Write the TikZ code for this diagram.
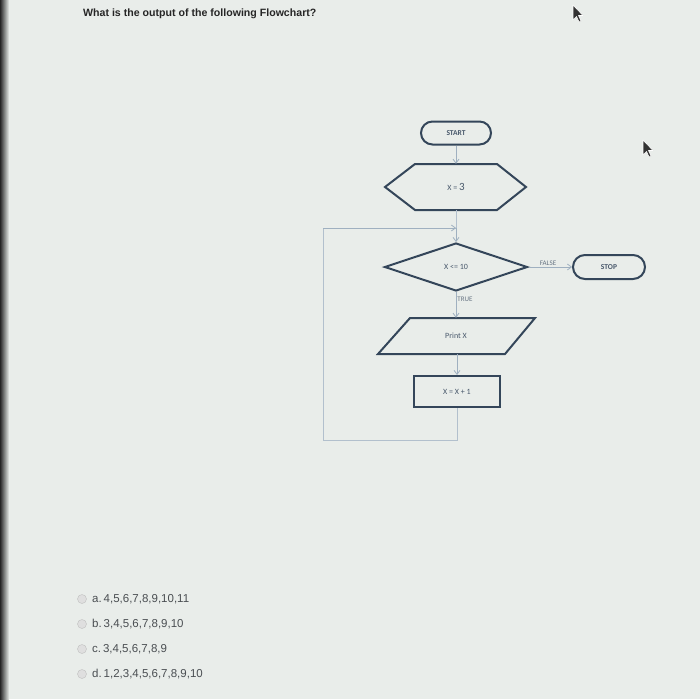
\documentclass[tikz,border=0pt]{standalone}
\usepackage{fontspec}
\setmainfont{Liberation Sans}
\newfontfamily\calib{Carlito}
\usetikzlibrary{arrows.meta,shapes.misc,shapes.geometric}
\definecolor{bgc}{HTML}{E9EDEA}
\definecolor{shp}{HTML}{34465A}
\definecolor{cnc}{HTML}{9FB0C0}
\definecolor{opt}{HTML}{4A4E52}
\tikzset{
  stad/.style={rounded rectangle, draw=shp, line width=2pt, minimum width=70pt, minimum height=23pt, inner sep=0pt, font=\calib\bfseries\fontsize{7.5}{8}\selectfont, text=shp!90},
  anch/.style={draw=none, inner sep=0pt, font=\calib\fontsize{8}{9}\selectfont, text=shp!90},
  outl/.style={draw=shp, line width=2pt, line join=miter},
  conn/.style={draw=cnc, line width=0.8pt, -{Straight Barb[length=4pt,width=6pt]}},
  loopl/.style={draw=cnc!80, line width=0.7pt},
  lbl/.style={font=\calib\fontsize{7}{8}\selectfont, text=shp!75, inner sep=1pt},
  radio/.style={circle, draw=gray!50, fill=gray!25, minimum size=9pt, inner sep=0pt},
  opttxt/.style={anchor=west, inner sep=0pt, font=\fontsize{11.5}{13}\selectfont, text=opt},
  cursor/.style={fill=black!80, draw=white, line width=0.6pt, line join=round}
}
\begin{document}
\begin{tikzpicture}[x=1pt,y=-1pt]
\useasboundingbox (0,0) rectangle (700,699);
\fill[bgc] (0,0) rectangle (700,699);
\shade[left color=black!85, right color=bgc] (0,0) rectangle (9,699);
% title
\node[anchor=west, inner sep=0pt, font=\bfseries\fontsize{10.6}{12}\selectfont, text=black!85] (title) at (83,14) {What is the output of the following Flowchart?};
% start
\node[stad] (start) at (456,133) {START};
% hexagon
\draw[outl] (385,187) -- (415,164) -- (497,164) -- (526,187) -- (497,210) -- (415,210) -- cycle;
\node[anch, minimum width=140pt, minimum height=46pt] (init) at (456,187) {X = {\fontsize{11}{12}\selectfont 3}};
% diamond
\node[diamond, outl, minimum width=143pt, minimum height=48pt, inner sep=0pt, font=\calib\fontsize{8}{9}\selectfont, text=shp!90] (cond) at (456,267) {X <= 10};
% stop
\node[stad, minimum width=72pt, minimum height=24pt] (stop) at (609,267) {STOP};
% parallelogram
\draw[outl] (410,318) -- (535,318) -- (505,354) -- (378,354) -- cycle;
\node[anch, minimum width=100pt, minimum height=36pt] (print) at (456,336) {Print X};
% rectangle
\node[draw=shp, line width=2pt, minimum width=86pt, minimum height=31pt, inner sep=0pt, font=\calib\fontsize{8}{9}\selectfont, text=shp!90] (incr) at (457,391.5) {X = X + 1};
% connectors
\draw[conn] (start.south) -- (init.north);
\coordinate (join) at (456,228);
\draw[loopl] (init.south) -- (join);
\draw[conn] (join) -- (cond.north);
\draw[conn] (cond.east) -- node[lbl, above, pos=0.45] (flab) {FALSE} (stop.west);
\draw[conn] (cond.south) -- node[lbl, right, pos=0.3] (tlab) {TRUE} (print.north -| cond.south);
\draw[conn] (print.south -| incr.north) -- (incr.north);
\coordinate (c1) at (457,440);
\coordinate (c2) at (323,440);
\coordinate (c3) at (323,228);
\draw[loopl] (incr.south) -- (c1) -- (c2) -- (c3) -- (join);
\draw[conn] (c3) -- (join);
% options
\node[radio] (ra) at (82,599) {};
\node[radio] (rb) at (82,624) {};
\node[radio] (rc) at (82,649) {};
\node[radio] (rd) at (82,674) {};
\node[opttxt] (ta) at (92,599) {a.\,4,5,6,7,8,9,10,11};
\node[opttxt] (tb) at (92,624) {b.\,3,4,5,6,7,8,9,10};
\node[opttxt] (tc) at (92,649) {c.\,3,4,5,6,7,8,9};
\node[opttxt] (td) at (92,674) {d.\,1,2,3,4,5,6,7,8,9,10};
% cursors
\draw[cursor] (573,5) -- (573,20) -- (576.5,16.5) -- (579,22) -- (581,21) -- (578.5,15.5) -- (583,15.5) -- cycle;
\draw[cursor] (643,140) -- (643,155) -- (646.5,151.5) -- (649,157) -- (651,156) -- (648.5,150.5) -- (653,150.5) -- cycle;
\end{tikzpicture}
\end{document}
